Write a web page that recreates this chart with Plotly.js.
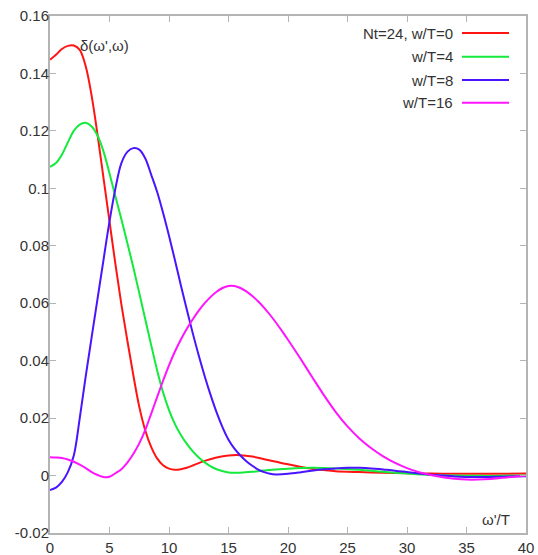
<!DOCTYPE html>
<html>
<head>
<meta charset="utf-8">
<script src="https://cdn.plot.ly/plotly-3.0.1.min.js"></script>
<style>
  html, body { margin: 0; padding: 0; background: #ffffff; }
  #chart { width: 538px; height: 555px; }
</style>
</head>
<body>
<div id="chart"></div>
<script>
// ---- data ----
const seriesNames = ["Nt=24, w/T=0", "w/T=4", "w/T=8", "w/T=16"];
const seriesColors = ["#ff1414", "#14ea3c", "#4a14ff", "#ff14ff"];

const xRed = [0, 0.5, 1, 1.5, 2, 2.5, 3, 3.5, 4, 4.5, 5, 5.5, 6, 6.5, 7, 7.5, 8, 8.5, 9, 9.5, 10, 10.5, 11, 11.5, 12, 13, 14, 15, 16, 17, 18, 19, 20, 21, 22, 23, 24, 26, 28, 30, 32, 34, 36, 38, 40];
const yRed = [0.1448, 0.1465, 0.1485, 0.1496, 0.1497, 0.1482, 0.1425, 0.1322, 0.1185, 0.1035, 0.0885, 0.0735, 0.0595, 0.0470, 0.0350, 0.0240, 0.0158, 0.0100, 0.0060, 0.0036, 0.0024, 0.0020, 0.0022, 0.0027, 0.0035, 0.0051, 0.0063, 0.0070, 0.0071, 0.0066, 0.0057, 0.0048, 0.0039, 0.0031, 0.0024, 0.0019, 0.0015, 0.0012, 0.0010, 0.0008, 0.0007, 0.0006, 0.0006, 0.0006, 0.0007];

const xGreen = [0, 0.5, 1, 1.5, 2, 2.5, 3, 3.5, 4, 4.5, 5, 5.5, 6, 6.5, 7, 7.5, 8, 8.5, 9, 9.5, 10, 10.5, 11, 11.5, 12, 12.5, 13, 13.5, 14, 15, 16, 17, 18, 20, 22, 24, 26, 28, 30, 32, 34, 36, 38, 40];
const yGreen = [0.1075, 0.1088, 0.1117, 0.1160, 0.1200, 0.1222, 0.1228, 0.1215, 0.1183, 0.1128, 0.1052, 0.0972, 0.0892, 0.0810, 0.0725, 0.0636, 0.0545, 0.0455, 0.0367, 0.0290, 0.0228, 0.0179, 0.0141, 0.0110, 0.0084, 0.0063, 0.0046, 0.0032, 0.0022, 0.0011, 0.0010, 0.0013, 0.0018, 0.0024, 0.0027, 0.0025, 0.0020, 0.0013, 0.0007, 0.0002, 0.0000, -0.0001, -0.0001, 0.0000];

const xBlue = [0, 0.5, 1, 1.5, 2, 2.5, 3, 3.5, 4, 4.5, 5, 5.5, 6, 6.5, 7, 7.5, 8, 8.5, 9, 9.5, 10, 10.5, 11, 11.5, 12, 12.5, 13, 13.5, 14, 14.5, 15, 15.5, 16, 16.5, 17, 17.5, 18, 18.5, 19, 20, 21, 22, 23, 24, 25, 26, 27, 28, 29, 30, 31, 32, 33, 34, 36, 38, 40];
const yBlue = [-0.0050, -0.0042, -0.0022, 0.0012, 0.0070, 0.0200, 0.0345, 0.0482, 0.0617, 0.0752, 0.0885, 0.1000, 0.1088, 0.1127, 0.1140, 0.1135, 0.1105, 0.1048, 0.0988, 0.0915, 0.0835, 0.0750, 0.0662, 0.0577, 0.0495, 0.0418, 0.0346, 0.0280, 0.0220, 0.0168, 0.0125, 0.0094, 0.0070, 0.0050, 0.0034, 0.0021, 0.0012, 0.0006, 0.0004, 0.0006, 0.0011, 0.0017, 0.0022, 0.0025, 0.0027, 0.0027, 0.0025, 0.0021, 0.0017, 0.0012, 0.0007, 0.0003, 0.0000, -0.0003, -0.0005, -0.0004, -0.0002];

const xMagenta = [0, 0.5, 1, 1.5, 2, 2.5, 3, 3.5, 4, 4.5, 5, 5.5, 6, 6.5, 7, 7.5, 8, 8.5, 9, 9.5, 10, 10.5, 11, 11.5, 12, 12.5, 13, 13.5, 14, 14.5, 15, 15.5, 16, 16.5, 17, 17.5, 18, 18.5, 19, 19.5, 20, 21, 22, 23, 24, 25, 26, 27, 28, 29, 30, 31, 32, 33, 34, 35, 36, 37, 38, 39, 40];
const yMagenta = [0.0064, 0.0063, 0.0061, 0.0056, 0.0048, 0.0038, 0.0026, 0.0012, 0.0002, -0.0005, -0.0004, 0.0008, 0.0022, 0.0045, 0.0075, 0.0112, 0.0158, 0.0215, 0.0273, 0.0330, 0.0384, 0.0432, 0.0474, 0.0511, 0.0544, 0.0574, 0.0600, 0.0622, 0.0640, 0.0653, 0.0660, 0.0660, 0.0653, 0.0641, 0.0625, 0.0606, 0.0584, 0.0559, 0.0532, 0.0503, 0.0473, 0.0410, 0.0345, 0.0281, 0.0222, 0.0171, 0.0129, 0.0095, 0.0067, 0.0044, 0.0026, 0.0012, 0.0002, -0.0006, -0.0011, -0.0014, -0.0014, -0.0012, -0.0008, -0.0004, -0.0001];

const xTickVals = [0, 5, 10, 15, 20, 25, 30, 35, 40];
const yTickVals = [-0.02, 0, 0.02, 0.04, 0.06, 0.08, 0.1, 0.12, 0.14, 0.16];
const yTickText = ["-0.02", "0", "0.02", "0.04", "0.06", "0.08", "0.1", "0.12", "0.14", "0.16"];
const yLabel = "δ(ω',ω)";
const xLabel = "ω'/T";

// ---- build ----
const xs = [xRed, xGreen, xBlue, xMagenta];
const ys = [yRed, yGreen, yBlue, yMagenta];
const traces = xs.map((x, i) => ({
  x: x, y: ys[i], name: seriesNames[i], type: 'scatter', mode: 'lines',
  line: { color: seriesColors[i], width: 2, shape: 'spline', smoothing: 1 },
  showlegend: false
}));

const FONT = 'Liberation Sans, Arial, sans-serif';
const txtColor = '#333333';
const frameColor = '#b4b4b4';

const annotations = [
  { xref: 'paper', yref: 'paper', x: 0.059, y: 0.942, xanchor: 'left', yanchor: 'middle',
    text: yLabel, showarrow: false, font: { family: FONT, size: 15, color: txtColor } },
  { xref: 'paper', yref: 'paper', x: 0.9706, y: 0.027, xanchor: 'right', yanchor: 'middle',
    text: xLabel, showarrow: false, font: { family: FONT, size: 15, color: txtColor } }
];
const shapes = [];
const legRowY = [0.967, 0.921, 0.876, 0.832];
seriesNames.forEach((nm, i) => {
  annotations.push({ xref: 'paper', yref: 'paper', x: 0.851, y: legRowY[i], xanchor: 'right', yanchor: 'middle',
    text: nm, showarrow: false, font: { family: FONT, size: 15, color: txtColor } });
  shapes.push({ type: 'line', xref: 'paper', yref: 'paper', x0: 0.8655, x1: 0.9643, y0: legRowY[i], y1: legRowY[i],
    line: { color: seriesColors[i], width: 2 } });
});

const axisCommon = {
  showgrid: false, zeroline: false, showline: true, linecolor: frameColor, linewidth: 2,
  mirror: 'ticks', ticks: 'inside', ticklen: 6, tickcolor: frameColor, tickwidth: 1,
  tickfont: { family: FONT, size: 15, color: txtColor }
};

const layout = {
  width: 538, height: 555,
  margin: { l: 50, r: 12, t: 16, b: 22 },
  paper_bgcolor: '#ffffff', plot_bgcolor: '#ffffff',
  showlegend: false,
  xaxis: Object.assign({}, axisCommon, { range: [0, 40], tickmode: 'array', tickvals: xTickVals }),
  yaxis: Object.assign({}, axisCommon, { range: [-0.02, 0.16], tickmode: 'array', tickvals: yTickVals, ticktext: yTickText, ticklabelstandoff: -4 }),
  annotations: annotations,
  shapes: shapes
};

Plotly.newPlot('chart', traces, layout, { displayModeBar: false, staticPlot: true });
</script>
</body>
</html>
